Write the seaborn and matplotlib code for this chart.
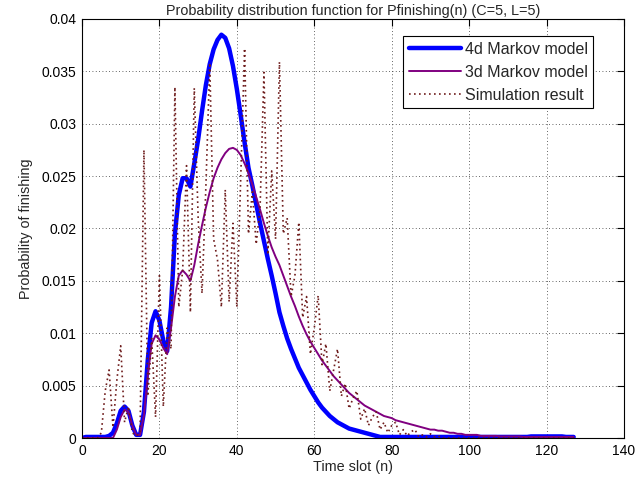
import matplotlib
matplotlib.use('Agg')
import pandas as pd
import matplotlib.pyplot as plt
import seaborn as sns
from matplotlib.ticker import FuncFormatter

# time slots 0..127
slots = list(range(128))

# 4d Markov model
model4d = [
    0, 0.0001, 0.0001, 0.0001, 0.0001, 0.0001, 0.0001, 0.0002, 0.0005, 0.0014,
    0.0026, 0.003, 0.0026, 0.0012, 0.0003, 0.0003, 0.0025, 0.0075, 0.011, 0.0121,
    0.0112, 0.0093, 0.0083, 0.0125, 0.0195, 0.0232, 0.0248, 0.0248, 0.024, 0.0262,
    0.0285, 0.0312, 0.0337, 0.0357, 0.0371, 0.038, 0.0385, 0.0382, 0.0372, 0.0355,
    0.0333, 0.0308, 0.0282, 0.0258, 0.0241, 0.0223, 0.0205, 0.0188, 0.0171, 0.0155,
    0.0138, 0.012, 0.0107, 0.0095, 0.0085, 0.0076, 0.0067, 0.006, 0.0053, 0.0046,
    0.004, 0.0034, 0.0029, 0.0025, 0.0021, 0.0018, 0.0015, 0.0013, 0.0011, 0.0009,
    0.0008, 0.0007, 0.0006, 0.0005, 0.0004, 0.0003, 0.0002, 0.0001, 0.0001, 0.0001,
    0.0001, 0.0001, 0.0001, 0.0001, 0.0001, 0.0001, 0.0001, 0.0001, 0.0001, 0.0001,
    0.0001, 0.0001, 0.0001, 0.0001, 0.0001, 0.0001, 0.0001, 0.0001, 0.0001, 0.0001,
    0.0001, 0.0001, 0.0001, 0.0001, 0.0001, 0.0001, 0.0001, 0.0001, 0.0001, 0.0001,
    0.0001, 0.0001, 0.0001, 0.0001, 0.0001, 0.0001, 0.00015, 0.00015, 0.00015, 0.00015,
    0.00015, 0.00015, 0.00015, 0.00015, 0.00015, 0.0001, 0.0001, 0.0001,
]

# 3d Markov model
model3d = [
    0, 0, 0, 0, 0, 0, 0, 0, 0, 0.0008,
    0.002, 0.0027, 0.0025, 0.0012, 0.0003, 0.0003, 0.0022, 0.006, 0.009, 0.0098,
    0.0094, 0.0086, 0.008, 0.0105, 0.0135, 0.0155, 0.016, 0.0156, 0.015, 0.0165,
    0.0185, 0.0203, 0.022, 0.0235, 0.0248, 0.0258, 0.0266, 0.0272, 0.0276, 0.0277,
    0.0275, 0.027, 0.0262, 0.0253, 0.0242, 0.023, 0.0218, 0.0205, 0.0193, 0.0182,
    0.0173, 0.0165, 0.0155, 0.0145, 0.0135, 0.0126, 0.0116, 0.0107, 0.0099, 0.0092,
    0.0086, 0.008, 0.0074, 0.0069, 0.0064, 0.0059, 0.0055, 0.0051, 0.0047, 0.0043,
    0.004, 0.0037, 0.0034, 0.0031, 0.0029, 0.0027, 0.0025, 0.0023, 0.0021, 0.002,
    0.0019, 0.0017, 0.0016, 0.0015, 0.0014, 0.0013, 0.0012, 0.0011, 0.001, 0.0009,
    0.0008, 0.0008, 0.0007, 0.0007, 0.0006, 0.0005, 0.0005, 0.0004, 0.0004, 0.0003,
    0.0003, 0.0003, 0.0003, 0.0002, 0.0002, 0.0002, 0.0002, 0.0002, 0.00015, 0.00015,
    0.00015, 0.00015, 0.00015, 0.00015, 0.0001, 0.0001, 0.0001, 0.0001, 0.0001, 0.0001,
    0.0001, 0.0001, 0.0001, 0.0001, 0.0001, 0.0001, 0.0001, 0.0001,
]

# simulation result
simulation = [
    0, 0, 0, 0, 0, 0.0005, 0.0045, 0.0065, 0.001, 0.0055,
    0.0088, 0.0015, 0.003, 0.0005, 0.0002, 0.0005, 0.0275, 0.004, 0.0095, 0.002,
    0.0155, 0.003, 0.0105, 0.0085, 0.0335, 0.0125, 0.016, 0.026, 0.012, 0.0334,
    0.021, 0.0138, 0.024, 0.0358, 0.019, 0.017, 0.0125, 0.0237, 0.013, 0.0205,
    0.0125, 0.025, 0.0372, 0.0195, 0.0235, 0.0185, 0.022, 0.0349, 0.0175, 0.0255,
    0.019, 0.0359, 0.0195, 0.021, 0.0135, 0.0155, 0.0206, 0.0115, 0.0135, 0.008,
    0.0105, 0.0136, 0.007, 0.009, 0.0045, 0.0065, 0.0085, 0.004, 0.0052, 0.0028,
    0.0038, 0.0045, 0.0018, 0.0028, 0.0012, 0.002, 0.0025, 0.0008, 0.0015, 0.0005,
    0.0012, 0.0015, 0.0003, 0.0008, 0.0002, 0.0006, 0.0008, 0.0001, 0.0003, 0.0001,
    0.0004, 0.0001, 0.0002, 0, 0, 0, 0, 0, 0, 0,
    0, 0, 0, 0, 0, 0, 0, 0, 0, 0,
    0, 0, 0, 0, 0, 0, 0, 0, 0, 0,
    0, 0, 0, 0, 0, 0, 0, 0,
]

sns.set_style('white')
plt.rcParams['font.family'] = ['Liberation Sans', 'DejaVu Sans']

fig = plt.figure(figsize=(6.41, 4.86), dpi=100)
ax = fig.add_axes([82 / 641, 48 / 486, 542 / 641, 419 / 486])

sns.lineplot(x=slots, y=model4d, ax=ax, color='#0000ff', linewidth=3.2,
             label='4d Markov model')
sns.lineplot(x=slots, y=model3d, ax=ax, color='#800080', linewidth=1.4,
             label='3d Markov model')
sns.lineplot(x=slots, y=simulation, ax=ax, color='#6e1c1c', linewidth=1.2,
             linestyle=(0, (1, 2)), label='Simulation result')

ax.set_xlim(0, 140)
ax.set_ylim(0, 0.04)
ax.set_xticks(range(0, 141, 20))
ax.set_yticks([i * 0.005 for i in range(9)])
ax.yaxis.set_major_formatter(FuncFormatter(lambda v, p: '%g' % round(v, 4)))

ax.grid(True, color='#333333', linestyle=(0, (1, 3)), linewidth=0.6)
ax.set_axisbelow(True)
ax.tick_params(direction='in', top=True, right=True, length=5, width=0.8,
               labelsize=10, colors='black', pad=4)
for s in ax.spines.values():
    s.set_color('black')
    s.set_linewidth(0.8)

ax.set_title('Probability distribution function for Pfinishing(n) (C=5, L=5)',
             fontsize=10.4, pad=3)
ax.set_xlabel('Time slot (n)', fontsize=10.4, labelpad=2)
ax.set_ylabel('Probability of finishing', fontsize=10.4, labelpad=6)

leg = ax.legend(loc='upper right', bbox_to_anchor=(0.943, 0.959), frameon=True,
                fancybox=False, edgecolor='black', framealpha=1, fontsize=11.5,
                handlelength=3.3, borderpad=0.35, labelspacing=0.5,
                handletextpad=0.2, borderaxespad=0)
leg.get_frame().set_linewidth(0.8)

fig.savefig('out.png', dpi=100)
